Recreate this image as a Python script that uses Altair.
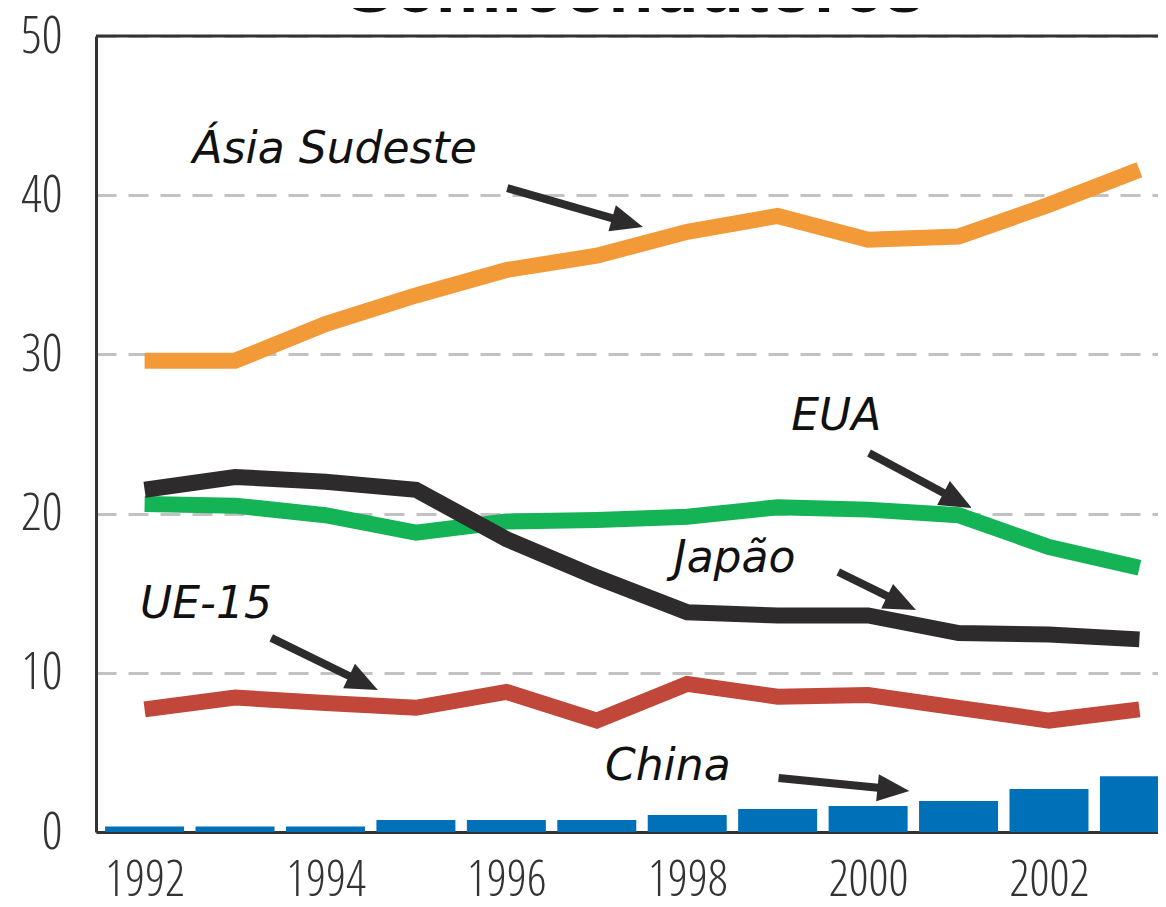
import altair as alt
import pandas as pd

# ---------------- data ----------------
years = list(range(1992, 2004))
asia_sudeste = [29.6, 29.6, 31.9, 33.7, 35.3, 36.2, 37.7, 38.7, 37.2, 37.4, 39.4, 41.6]
eua = [20.6, 20.5, 19.9, 18.8, 19.5, 19.6, 19.8, 20.4, 20.25, 19.9, 17.9, 16.6]
japao = [21.5, 22.3, 22.0, 21.5, 18.4, 16.0, 13.8, 13.6, 13.6, 12.5, 12.4, 12.1]
ue15 = [7.7, 8.45, 8.1, 7.8, 8.8, 7.0, 9.3, 8.5, 8.6, 7.8, 7.0, 7.7]
china = [0.35, 0.35, 0.35, 0.75, 0.75, 0.75, 1.07, 1.45, 1.64, 1.95, 2.7, 3.5]

x_tick_labels = [1992, 1994, 1996, 1998, 2000, 2002]
y_tick_labels = [0, 10, 20, 30, 40, 50]

label_text = ["Ásia Sudeste", "EUA", "Japão", "UE-15", "China"]
label_x = [1992.53, 1999.15, 1997.85, 1991.95, 1997.09]
label_y = [42.02, 25.25, 16.35, 13.44, 3.27]

arrow_tail_x = [1996.01, 2000.01, 1999.67, 1993.40, 1999.01]
arrow_tail_y = [40.45, 23.81, 16.33, 12.19, 3.39]
arrow_head_x = [1997.34, 2000.99, 2000.37, 1994.42, 2000.28]
arrow_head_y = [38.28, 20.82, 14.38, 9.36, 2.68]
arrow_angle = [15.8, 27.9, 25.7, 25.9, 5.6]

title_text = "Semicondutores"

# ---------------- layout / style ----------------
PLOT_W = 1062
PLOT_H = 796
X_DOMAIN = [1991.518, 2003.150]
AX = "#333333"
NARROW = ("Open Sans Condensed Light, Roboto Condensed Light, Roboto Condensed, "
          "DejaVu Sans Condensed, sans-serif")

xscale = alt.Scale(domain=X_DOMAIN, nice=False, zero=False)
yscale = alt.Scale(domain=[0, 50], nice=False, zero=True)

x_axis = alt.Axis(values=x_tick_labels, format="d", title=None, grid=False,
                  ticks=False, tickSize=0, domainColor=AX, domainWidth=3,
                  labelFont=NARROW, labelFontSize=50, labelFontWeight=300,
                  labelColor="#333", labelPadding=63,
                  labelBaseline="alphabetic", labelFlush=False)
y_axis = alt.Axis(values=y_tick_labels, title=None, grid=True,
                  gridDash=[20, 12], gridColor="#c2c2c2", gridWidth=3,
                  ticks=False, tickSize=0, domainColor=AX, domainWidth=3,
                  labelFont=NARROW, labelFontSize=52, labelFontWeight=300,
                  labelColor="#333", labelPadding=34)


def X(field="x"):
    return alt.X(f"{field}:Q", scale=xscale, axis=x_axis)


def Y(field="y"):
    return alt.Y(f"{field}:Q", scale=yscale, axis=y_axis)


bars_df = pd.DataFrame({"x": years, "y": china})
bars = alt.Chart(bars_df).mark_bar(size=79, color="#0070B8").encode(x=X(), y=Y())


def line_layer(values, color):
    d = pd.DataFrame({"x": years, "y": values})
    return alt.Chart(d).mark_line(color=color, strokeWidth=16, strokeJoin="miter",
                                  strokeCap="butt").encode(x=X(), y=Y())


red = line_layer(ue15, "#C0473A")
green = line_layer(eua, "#14B356")
black = line_layer(japao, "#2D2B2C")
orange = line_layer(asia_sudeste, "#F39A38")

top_df = pd.DataFrame({"y": [50]})
top_rule = alt.Chart(top_df).mark_rule(color=AX, strokeWidth=3).encode(y=Y())

arrows_df = pd.DataFrame({"x": arrow_tail_x, "y": arrow_tail_y,
                          "x2": arrow_head_x, "y2": arrow_head_y,
                          "a": arrow_angle})
shafts = alt.Chart(arrows_df).mark_rule(color="#2D2B2C", strokeWidth=8,
                                         strokeCap="butt").encode(
    x=X(), y=Y(), x2="x2:Q", y2="y2:Q")
heads = alt.Chart(arrows_df).mark_point(
    shape="M1,0L-1,-0.85L-1,0.85Z", filled=True, size=1024,
    color="#2D2B2C", opacity=1, strokeWidth=0).encode(
    x=X("x2"), y=Y("y2"), angle=alt.Angle("a:Q", scale=None))

labels_df = pd.DataFrame({"x": label_x, "y": label_y, "t": label_text})
labels = alt.Chart(labels_df).mark_text(
    align="left", baseline="alphabetic", font="DejaVu Sans", fontStyle="italic",
    fontSize=44, color="#111111").encode(x=X(), y=Y(), text="t:N")

title_df = pd.DataFrame({"t": [title_text]})
title = alt.Chart(title_df).mark_text(
    align="center", baseline="alphabetic", font="Liberation Sans",
    fontWeight="bold", fontSize=74, color="#111111").encode(
    text="t:N", x=alt.value(539), y=alt.value(-24))

chart = alt.layer(bars, red, green, black, orange, top_rule, shafts, heads,
                  labels, title).properties(
    width=PLOT_W, height=PLOT_H,
    autosize=alt.AutoSizeParams(type="none"),
    padding={"left": 88, "top": 28, "right": 0, "bottom": 66},
).configure_view(stroke=None).configure(background="white")

chart.save("out.html", embed_options={"renderer": "svg", "actions": False})
